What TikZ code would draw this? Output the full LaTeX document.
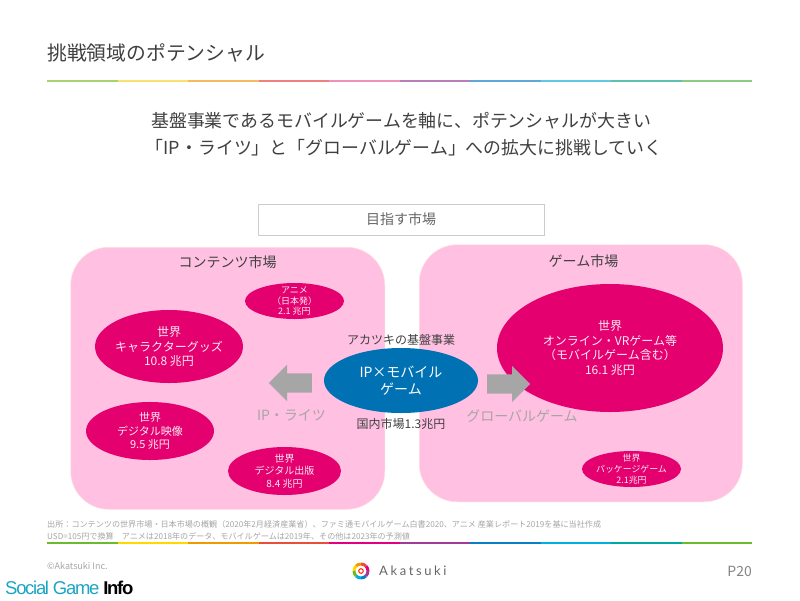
\documentclass[tikz,border=0pt]{standalone}
\usepackage{fontspec}
\setmainfont{Noto Sans CJK JP}
\newfontfamily\akfont[LetterSpace=20]{Lato}
\newfontfamily\sgifont[LetterSpace=-7]{Liberation Sans}
\usetikzlibrary{shapes.geometric, shapes.arrows, positioning}
\definecolor{inkgray}{HTML}{404040}
\definecolor{softgray}{HTML}{A6A6A6}
\definecolor{boxpink}{HTML}{FFC0E2}
\definecolor{deeppink}{HTML}{E4006E}
\definecolor{coreblue}{HTML}{0071B3}
\definecolor{sgiteal}{HTML}{1BA5C4}

\begin{document}
\begin{tikzpicture}[x=1pt, y=-1pt,
            node distance = 1pt and 1pt,
            market/.style = {rectangle, rounded corners=38pt, fill=boxpink, draw=boxpink!70!orange!40,
                             line width=0.5pt, inner sep=0pt, anchor=north west},
            segment/.style = {ellipse, fill=deeppink, text=white!92!deeppink, align=center, inner sep=-14pt},
            caption/.style = {text=inkgray, inner sep=0pt, font=\fontsize{12}{15}\selectfont},
            heading/.style = {text=inkgray, inner sep=0pt, font=\fontsize{14}{17}\selectfont},
            growth/.style = {text=softgray, inner sep=0pt, font=\fontsize{14}{17}\selectfont},
            push/.style = {single arrow, fill=softgray, inner xsep=0pt, inner ysep=9.5pt, minimum height=43pt, minimum width=36pt,
                           single arrow head extend=8.5pt, single arrow head indent=0pt, anchor=tail},
            note/.style = {text=softgray, inner sep=0pt, anchor=west, font=\fontsize{8.1}{10}\selectfont}
                                 ]
            \useasboundingbox (0,0) rectangle (800,600);
            \fill [white] (0,0) rectangle (800,600);
            % title and rainbow rules
            \node (TITLE) [text=inkgray, inner sep=0pt, anchor=west, font=\fontsize{19.8}{24}\selectfont] at (47,53) {挑戦領域のポテンシャル};
            \foreach \col [count=\i from 0] in {A5D46C,F8E16E,F4BB62,EE8080,EE92BA,B67FBA,60A9D4,62C9E5,5DC0B1,8DCC80}{
                \definecolor{band}{HTML}{\col}
                \fill [band] ({47+70.5*\i},80.3) rectangle ++(70.5,1.7);
            }
            \foreach \col [count=\i from 0] in {6CBB2D,FFD800,F39800,E94E3A,E4007F,A23A96,0A7FC9,00B0E0,00A99D,6CBB2D}{
                \definecolor{band}{HTML}{\col}
                \fill [band] ({47+70.5*\i},542.4) rectangle ++(70.5,1.3);
            }
            % message
            \node (MSG) [text=inkgray, inner sep=0pt, anchor=west, align=left, font=\fontsize{17.9}{27}\selectfont] at (151,134.5)
                 {基盤事業であるモバイルゲームを軸に、ポテンシャルが大きい\\\hspace*{-0.3em}「IP・ライツ」と「グローバルゲーム」への拡大に挑戦していく};
            \node (GOAL) [rectangle, draw=black!20, line width=0.7pt, minimum width=286pt, minimum height=31pt, inner sep=0pt,
                          text=inkgray!80, font=\fontsize{14}{17}\selectfont] at (401,219.5) {目指す市場};
            % markets
            \node (CONT) [market, minimum width=314pt, minimum height=262pt] at (70.5,247) {};
            \node (GAME) [market, minimum width=323pt, minimum height=257pt] at (419,244.5) {};
            \node (CONTT) [heading] at (227.5,262) {コンテンツ市場};
            \node (GAMET) [heading] at (583.5,261) {ゲーム市場};
            % segments
            \node (ANIME) [segment, minimum width=99pt, minimum height=36pt, font=\fontsize{9}{10.7}\selectfont] at (294.5,301) {アニメ\\（日本発）\\2.1 兆円};
            \node (CHARA) [segment, minimum width=148pt, minimum height=73pt, font=\fontsize{12}{14.7}\selectfont] at (169,346.5) {世界\\キャラクターグッズ\\10.8 兆円};
            \node (VIDEO) [segment, minimum width=128pt, minimum height=58pt, font=\fontsize{11}{13.8}\selectfont] at (150,431) {世界\\デジタル映像\\9.5 兆円};
            \node (BOOK)  [segment, minimum width=113pt, minimum height=48pt, font=\fontsize{10}{12.5}\selectfont] at (284.5,471) {世界\\デジタル出版\\8.4 兆円};
            \node (ONLINE) [segment, minimum width=226pt, minimum height=128pt, font=\fontsize{12}{14.6}\selectfont] at (610,348) {世界\\オンライン・VRゲーム等\\（モバイルゲーム含む）\\16.1 兆円};
            \node (PACK)  [segment, minimum width=99pt, minimum height=36pt, font=\fontsize{8.9}{10.7}\selectfont] at (631.5,469) {世界\\パッケージゲーム\\2.1兆円};
            % core business
            \node (CORE) [ellipse, fill=coreblue, text=white, align=center, inner sep=-14pt, minimum width=154pt, minimum height=65pt,
                          font=\fontsize{14}{17.5}\selectfont] at (401,380.5) {IP×モバイル\\ゲーム};
            \node (COREUP) [caption, above = 2pt of CORE] {アカツキの基盤事業};
            \node (CORELOW) [caption, below = 5pt of CORE] {国内市場1.3兆円};
            % growth directions
            \node (LEFTA)  [push, shape border rotate=180] at (312,383) {};
            \node (RIGHTA) [push] at (487,384) {};
            \node (IPR) [growth] at (291.5,415) {IP・ライツ};
            \node (GLOB) [growth] at (522,416) {グローバルゲーム};
            % footer
            \node (SRC1) [note] at (47,524) {出所：コンテンツの世界市場・日本市場の概観（2020年2月経済産業省）、ファミ通モバイルゲーム白書2020、アニメ 産業レポート2019を基に当社作成};
            \node (SRC2) [note] at (47,536) {USD=105円で換算　アニメは2018年のデータ、モバイルゲームは2019年、その他は2023年の予測値};
            \node (COPY) [text=softgray, inner sep=0pt, anchor=west, font=\fontsize{9}{10}\selectfont] at (47,566) {©Akatsuki Inc.};
            \node (PAGE) [text=softgray!80!black, inner sep=0pt, anchor=east, font=\fontsize{14}{17}\selectfont] at (752,571) {P20};
            % logo
            \foreach \col [count=\i from 0] in {E4007F,E94E3A,F39800,FFD800,6CBB2D,00B0E0,0A7FC9,A23A96}{
                \definecolor{band}{HTML}{\col}
                \draw [line width=3pt, band] ({361+7*cos(45*\i)},{571-7*sin(45*\i)}) arc [start angle=45*\i, end angle=45*\i+46, x radius=7, y radius=-7];
            }
            \draw [line width=1pt, color=red!80!orange] (361,571) circle [radius=2.3];
            \node (AKA) [text=black!60, inner sep=0pt, anchor=west, font=\akfont\fontsize{13}{16}\selectfont] at (379,571) {Akatsuki};
            \node (SGI) [inner sep=0pt, anchor=west, font=\sgifont\fontsize{18.5}{22}\selectfont] at (5,587.5) {\textcolor{sgiteal}{Social Game} \textbf{Info}};
    \end{tikzpicture}
\end{document}
